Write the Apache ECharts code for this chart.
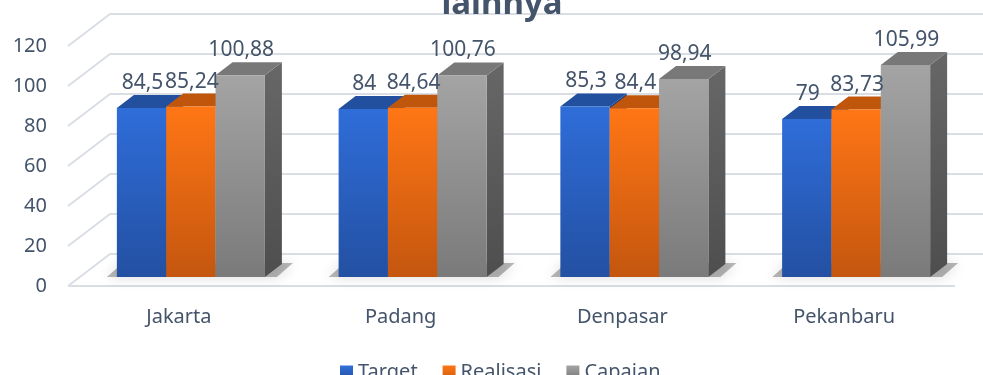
<!DOCTYPE html>
<html>
<head>
<meta charset="utf-8">
<script src="https://cdn.jsdelivr.net/npm/echarts@6/dist/echarts.min.js"></script>
<style>
  html, body { margin: 0; padding: 0; background: #ffffff; }
  #chart { width: 983px; height: 375px; }
</style>
</head>
<body>
<div id="chart"></div>
<script>
// Data
const categories = ['Jakarta', 'Padang', 'Denpasar', 'Pekanbaru'];
const target = [84.5, 84, 85.3, 79];
const realisasi = [85.24, 84.64, 84.4, 83.73];
const capaian = [100.88, 100.76, 98.94, 105.99];
const yTicks = [0, 20, 40, 60, 80, 100, 120];
const seriesNames = ['Target', 'Realisasi', 'Capaian'];
const titleText = 'lainnya';

// 3D look: wall depth, bar offset into the floor, bar depth
const WALL_DX = 42, WALL_DY = -32;
const BAR_DX = 12, BAR_DY = -9;
const DEPTH_DX = 17, DEPTH_DY = -13;
const BAR_FRACTION = 0.2225;
const TEXT = '#44546a';
const FONT = '"Noto Sans", sans-serif';

const grad = (a, b) => new echarts.graphic.LinearGradient(0, 0, 0, 1, [
  { offset: 0, color: a }, { offset: 1, color: b }
]);

const palettes = [
  { front: grad('#2f6dd9', '#2350a2'), top: '#22509f', side: '#1b3f80', legend: grad('#3170dc', '#2350a2') },
  { front: grad('#ff7615', '#c4560f'), top: '#c0560c', side: '#9a4409', legend: grad('#ff7615', '#d0600f') },
  { front: grad('#a4a4a4', '#7a7a7a'), top: '#787878', side: grad('#676767', '#4e4e4e'), legend: grad('#a4a4a4', '#7a7a7a') }
];

function fmt(v) { return String(v).replace('.', ','); }

// Back wall, side wall and floor lines
function renderWall(params, api) {
  const v = api.value(1);
  const p = api.coord([0, v]);
  const cs = params.coordSys;
  const y = p[1];
  const x0 = cs.x;
  const lineStyle = { stroke: '#d9dee5', lineWidth: 2 };
  const children = [
    { type: 'line', shape: { x1: x0, y1: y, x2: x0 + WALL_DX, y2: y + WALL_DY }, style: lineStyle },
    { type: 'line', shape: { x1: x0 + WALL_DX, y1: y + WALL_DY, x2: api.getWidth(), y2: y + WALL_DY }, style: lineStyle }
  ];
  if (v === 0) {
    children.push({ type: 'line', shape: { x1: x0, y1: y, x2: cs.x + cs.width, y2: y }, style: lineStyle });
  }
  return { type: 'group', children };
}

// Soft floor shadow under each cluster
function renderShadow(params, api) {
  const idx = api.value(0);
  const base = api.coord([idx, 0]);
  const band = api.size([1, 0])[0];
  const w = band * BAR_FRACTION;
  const xl = base[0] - 1.5 * w + BAR_DX;
  const xr = xl + 3 * w;
  const y = base[1] + BAR_DY;
  return {
    type: 'polygon',
    shape: { points: [[xl - 10, y], [xr + 12, y], [xr + 28, y - 14], [xl + 6, y - 14]] },
    style: { fill: 'rgba(0,0,0,0.28)', shadowBlur: 14, shadowColor: 'rgba(0,0,0,0.55)' },
    silent: true
  };
}

function barRenderer(k) {
  const pal = palettes[k];
  return function (params, api) {
    const idx = api.value(0);
    const v = api.value(1);
    const top = api.coord([idx, v]);
    const base = api.coord([idx, 0]);
    const band = api.size([1, 0])[0];
    const w = band * BAR_FRACTION;
    const xl = top[0] - 1.5 * w + k * w + BAR_DX;
    const yT = top[1] + BAR_DY;
    const yB = base[1] + BAR_DY;
    return {
      type: 'group',
      children: [
        { type: 'polygon', shape: { points: [[xl + w, yT], [xl + w + DEPTH_DX, yT + DEPTH_DY], [xl + w + DEPTH_DX, yB + DEPTH_DY], [xl + w, yB]] }, style: { fill: pal.side } },
        { type: 'polygon', shape: { points: [[xl, yT], [xl + w, yT], [xl + w + DEPTH_DX, yT + DEPTH_DY], [xl + DEPTH_DX, yT + DEPTH_DY]] }, style: { fill: pal.top } },
        { type: 'rect', shape: { x: xl, y: yT, width: w, height: yB - yT }, style: { fill: pal.front } },
        { type: 'text', x: xl + w / 2 + 1, y: yT - 25, z2: 10,
          style: { text: fmt(v), fill: TEXT, font: '21px ' + FONT, align: 'center', verticalAlign: 'middle' } }
      ]
    };
  };
}

const chart = echarts.init(document.getElementById('chart'), null, { renderer: 'canvas' });

const barData = [target, realisasi, capaian];

chart.setOption({
  animation: false,
  backgroundColor: '#ffffff',
  title: {
    text: titleText,
    left: 497,
    textAlign: 'center',
    top: -17,
    textStyle: { fontFamily: FONT, fontWeight: 'bold', fontSize: 33, color: TEXT }
  },
  legend: {
    data: seriesNames,
    left: 335,
    top: 357,
    icon: 'rect',
    itemWidth: 13,
    itemHeight: 13,
    itemGap: 25,
    textStyle: { fontFamily: FONT, fontSize: 20, color: TEXT }
  },
  grid: { left: 68, right: 28, top: 46, bottom: 89, containLabel: false },
  xAxis: {
    type: 'category',
    data: categories,
    axisLine: { show: false },
    axisTick: { show: false },
    splitLine: { show: false },
    axisLabel: { margin: 21, fontFamily: FONT, fontSize: 20, color: TEXT }
  },
  yAxis: {
    type: 'value',
    min: 0,
    max: 120,
    interval: 20,
    axisLine: { show: false },
    axisTick: { show: false },
    splitLine: { show: false },
    axisLabel: { margin: 21, fontFamily: FONT, fontSize: 20, color: TEXT }
  },
  series: [
    {
      type: 'custom', name: 'wall', silent: true, z: 1,
      renderItem: renderWall,
      data: yTicks.map(v => [0, v])
    },
    {
      type: 'custom', name: 'shadow', silent: true, z: 2,
      renderItem: renderShadow,
      data: categories.map((c, i) => [i, 0])
    }
  ].concat(seriesNames.map((name, k) => ({
    type: 'custom',
    name,
    z: 3,
    itemStyle: { color: palettes[k].legend },
    renderItem: barRenderer(k),
    encode: { x: 0, y: 1 },
    data: barData[k].map((v, i) => [i, v])
  })))
});
</script>
</body>
</html>
